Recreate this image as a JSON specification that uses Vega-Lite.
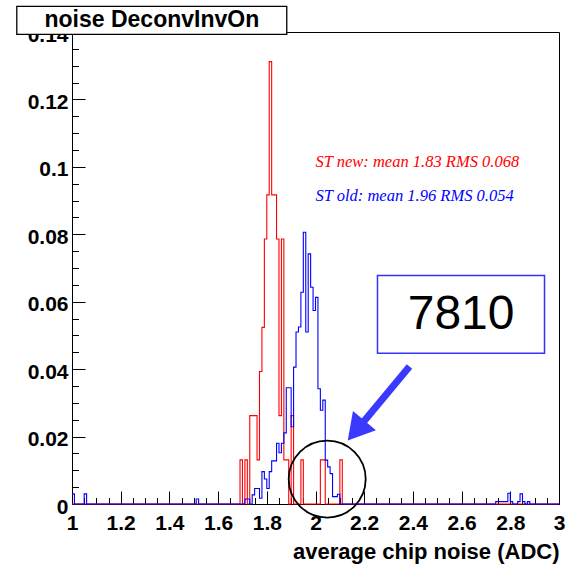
{
  "$schema": "https://vega.github.io/schema/vega-lite/v6.json",
  "autosize": "none",
  "width": 487,
  "height": 472,
  "padding": {"left": 72, "top": 32, "right": 8, "bottom": 63},
  "background": "white",
  "config": {"view": {"stroke": "black", "strokeWidth": 1}, "font": "Liberation Sans"},
  "resolve": {"axis": {"x": "independent", "y": "independent"}},
  "layer": [
    {
      "data": {"values": [
        {"x": 1.00, "v": 0}, {"x": 1.69, "v": 0.0131}, {"x": 1.70, "v": 0}, {"x": 1.71, "v": 0.0131}, {"x": 1.72, "v": 0},
        {"x": 1.73, "v": 0.0262}, {"x": 1.74, "v": 0.0262}, {"x": 1.75, "v": 0.0262}, {"x": 1.76, "v": 0.0131},
        {"x": 1.77, "v": 0.0393}, {"x": 1.78, "v": 0.0524}, {"x": 1.79, "v": 0.0786}, {"x": 1.80, "v": 0.0917},
        {"x": 1.81, "v": 0.1312}, {"x": 1.82, "v": 0.0917}, {"x": 1.83, "v": 0.0917}, {"x": 1.84, "v": 0.0786},
        {"x": 1.85, "v": 0.0262}, {"x": 1.86, "v": 0.0786}, {"x": 1.87, "v": 0.0131}, {"x": 1.88, "v": 0.0131},
        {"x": 1.89, "v": 0}, {"x": 1.90, "v": 0.0262}, {"x": 1.91, "v": 0}, {"x": 1.94, "v": 0.0131}, {"x": 1.95, "v": 0},
        {"x": 2.02, "v": 0.0131}, {"x": 2.03, "v": 0.0131}, {"x": 2.04, "v": 0}, {"x": 2.10, "v": 0.0131}, {"x": 2.11, "v": 0},
        {"x": 3.00, "v": 0}
      ]},
      "mark": {"type": "line", "interpolate": "step-after", "color": "#ff0000", "strokeWidth": 1.1},
      "encoding": {
        "x": {"field": "x", "type": "quantitative", "scale": {"domain": [1, 3], "nice": false, "zero": false},
          "axis": {"orient": "bottom", "values": [1, 1.2, 1.4, 1.6, 1.8, 2, 2.2, 2.4, 2.6, 2.8, 3], "format": ".1~f",
            "tickSize": -13, "tickColor": "black", "tickWidth": 1, "domainColor": "black", "domainWidth": 1,
            "labelPadding": 21, "labelFontSize": 21, "labelFontWeight": "bold", "labelColor": "black",
            "labelFlush": false, "labelOverlap": false, "grid": false,
            "title": "average chip noise (ADC)", "titleFontSize": 22, "titleFontWeight": "bold", "titleColor": "black",
            "titleX": 487, "titleY": 47, "titleAlign": "right", "titleBaseline": "middle", "titleAnchor": null}},
        "y": {"field": "v", "type": "quantitative", "scale": {"domain": [0, 0.14], "nice": false},
          "axis": {"orient": "left", "values": [0, 0.02, 0.04, 0.06, 0.08, 0.1, 0.12, 0.14], "format": ".2~f",
            "tickSize": -13, "tickColor": "black", "tickWidth": 1, "domainColor": "black", "domainWidth": 1,
            "labelPadding": 17, "labelOffset": 3, "labelFontSize": 21, "labelFontWeight": "bold", "labelColor": "black",
            "labelFlush": false, "labelOverlap": false, "grid": false, "title": null}}
      }
    },
    {
      "data": {"values": [
        {"x": 1.00, "v": 0.003}, {"x": 1.01, "v": 0}, {"x": 1.05, "v": 0.003}, {"x": 1.06, "v": 0},
        {"x": 1.51, "v": 0.0015}, {"x": 1.52, "v": 0},
        {"x": 1.71, "v": 0.0015}, {"x": 1.72, "v": 0.0015}, {"x": 1.73, "v": 0}, {"x": 1.74, "v": 0.0027},
        {"x": 1.75, "v": 0.0046}, {"x": 1.76, "v": 0.0046}, {"x": 1.77, "v": 0.0017}, {"x": 1.78, "v": 0.0096},
        {"x": 1.79, "v": 0.0074}, {"x": 1.80, "v": 0.0046}, {"x": 1.81, "v": 0.0096}, {"x": 1.82, "v": 0.0128},
        {"x": 1.83, "v": 0.0128}, {"x": 1.84, "v": 0.018}, {"x": 1.85, "v": 0.0152}, {"x": 1.86, "v": 0.018},
        {"x": 1.87, "v": 0.0211}, {"x": 1.88, "v": 0.0345}, {"x": 1.89, "v": 0.0345}, {"x": 1.90, "v": 0.0229},
        {"x": 1.91, "v": 0.0406}, {"x": 1.92, "v": 0.051}, {"x": 1.93, "v": 0.0525}, {"x": 1.94, "v": 0.0628},
        {"x": 1.95, "v": 0.0806}, {"x": 1.96, "v": 0.051}, {"x": 1.97, "v": 0.0742}, {"x": 1.98, "v": 0.0643},
        {"x": 1.99, "v": 0.0574}, {"x": 2.00, "v": 0.0613}, {"x": 2.01, "v": 0.0342}, {"x": 2.02, "v": 0.0278},
        {"x": 2.03, "v": 0.0308}, {"x": 2.04, "v": 0.013}, {"x": 2.05, "v": 0.011}, {"x": 2.06, "v": 0.009},
        {"x": 2.07, "v": 0.0022}, {"x": 2.08, "v": 0.0022}, {"x": 2.09, "v": 0.0029}, {"x": 2.10, "v": 0},
        {"x": 2.74, "v": 0.0007}, {"x": 2.75, "v": 0.0007}, {"x": 2.76, "v": 0.0007}, {"x": 2.77, "v": 0.0007},
        {"x": 2.78, "v": 0.0007}, {"x": 2.79, "v": 0.0032}, {"x": 2.80, "v": 0.0007}, {"x": 2.81, "v": 0},
        {"x": 2.83, "v": 0.0007}, {"x": 2.84, "v": 0.003}, {"x": 2.85, "v": 0.0007}, {"x": 2.86, "v": 0},
        {"x": 2.87, "v": 0.0007}, {"x": 2.88, "v": 0}, {"x": 3.00, "v": 0}
      ]},
      "mark": {"type": "line", "interpolate": "step-after", "color": "#0000ff", "strokeWidth": 1.1},
      "encoding": {
        "x": {"field": "x", "type": "quantitative",
          "axis": {"orient": "bottom", "values": [1, 1.05, 1.1, 1.15, 1.2, 1.25, 1.3, 1.35, 1.4, 1.45, 1.5, 1.55, 1.6, 1.65, 1.7, 1.75, 1.8, 1.85, 1.9, 1.95, 2, 2.05, 2.1, 2.15, 2.2, 2.25, 2.3, 2.35, 2.4, 2.45, 2.5, 2.55, 2.6, 2.65, 2.7, 2.75, 2.8, 2.85, 2.9, 2.95, 3],
            "tickSize": -6.5, "tickColor": "black", "tickWidth": 1, "labels": false, "domain": false, "grid": false, "title": null}},
        "y": {"field": "v", "type": "quantitative",
          "axis": {"orient": "left", "values": [0, 0.005, 0.01, 0.015, 0.02, 0.025, 0.03, 0.035, 0.04, 0.045, 0.05, 0.055, 0.06, 0.065, 0.07, 0.075, 0.08, 0.085, 0.09, 0.095, 0.1, 0.105, 0.11, 0.115, 0.12, 0.125, 0.13, 0.135, 0.14],
            "tickSize": -6.5, "tickColor": "black", "tickWidth": 1, "labels": false, "domain": false, "grid": false, "title": null}}
      }
    },
    {
      "data": {"values": [{"x": 2.0, "y": 0.1, "label": "ST new: mean 1.83 RMS 0.068"}]},
      "mark": {"type": "text", "align": "left", "baseline": "alphabetic", "font": "Liberation Serif", "fontStyle": "italic", "fontSize": 16.5, "color": "#ff0000"},
      "encoding": {"x": {"field": "x", "type": "quantitative", "axis": null}, "y": {"field": "y", "type": "quantitative", "axis": null}, "text": {"field": "label"}}
    },
    {
      "data": {"values": [{"x": 2.0, "y": 0.09, "label": "ST old: mean 1.96 RMS 0.054"}]},
      "mark": {"type": "text", "align": "left", "baseline": "alphabetic", "font": "Liberation Serif", "fontStyle": "italic", "fontSize": 16.5, "color": "#0000ff"},
      "encoding": {"x": {"field": "x", "type": "quantitative", "axis": null}, "y": {"field": "y", "type": "quantitative", "axis": null}, "text": {"field": "label"}}
    },
    {
      "data": {"values": [{"x": 2.2546, "x2": 2.9405, "y": 0.0447, "y2": 0.0678}]},
      "mark": {"type": "rect", "fill": "white", "stroke": "#3333ff", "strokeWidth": 1.5},
      "encoding": {"x": {"field": "x", "type": "quantitative", "axis": null}, "x2": {"field": "x2"}, "y": {"field": "y", "type": "quantitative", "axis": null}, "y2": {"field": "y2"}}
    },
    {
      "data": {"values": [{"x": 2.598, "y": 0.0562, "label": "7810"}]},
      "mark": {"type": "text", "align": "center", "baseline": "middle", "font": "Liberation Sans", "fontSize": 48, "color": "black"},
      "encoding": {"x": {"field": "x", "type": "quantitative", "axis": null}, "y": {"field": "y", "type": "quantitative", "axis": null}, "text": {"field": "label"}}
    },
    {
      "data": {"values": [{"x": 2.386, "y": 0.0408, "x2": 2.1667, "y2": 0.02175}]},
      "mark": {"type": "rule", "color": "#3a3aff", "strokeWidth": 7, "strokeCap": "butt"},
      "encoding": {"x": {"field": "x", "type": "quantitative", "axis": null}, "y": {"field": "y", "type": "quantitative", "axis": null}, "x2": {"field": "x2"}, "y2": {"field": "y2"}}
    },
    {
      "data": {"values": [{"x": 2.1667, "y": 0.02175}]},
      "mark": {"type": "point", "shape": "triangle-up", "filled": true, "color": "#3a3aff", "opacity": 1, "size": 900, "angle": 220},
      "encoding": {"x": {"field": "x", "type": "quantitative", "axis": null}, "y": {"field": "y", "type": "quantitative", "axis": null}}
    },
    {
      "data": {"values": [{"x": 2.048, "y": 0.0074}]},
      "mark": {"type": "point", "shape": "circle", "filled": false, "color": "black", "opacity": 1, "strokeWidth": 1.8, "size": 5929},
      "encoding": {"x": {"field": "x", "type": "quantitative", "axis": null}, "y": {"field": "y", "type": "quantitative", "axis": null}}
    },
    {
      "data": {"values": [{"x": 0.7733, "x2": 1.882, "y": 0.1393, "y2": 0.1476}]},
      "mark": {"type": "rect", "fill": "white", "stroke": "black", "strokeWidth": 1.3},
      "encoding": {"x": {"field": "x", "type": "quantitative", "axis": null}, "x2": {"field": "x2"}, "y": {"field": "y", "type": "quantitative", "axis": null}, "y2": {"field": "y2"}}
    },
    {
      "data": {"values": [{"x": 1.328, "y": 0.1435, "label": "noise DeconvInvOn"}]},
      "mark": {"type": "text", "align": "center", "baseline": "middle", "font": "Liberation Sans", "fontWeight": "bold", "fontSize": 23, "color": "black"},
      "encoding": {"x": {"field": "x", "type": "quantitative", "axis": null}, "y": {"field": "y", "type": "quantitative", "axis": null}, "text": {"field": "label"}}
    }
  ]
}
